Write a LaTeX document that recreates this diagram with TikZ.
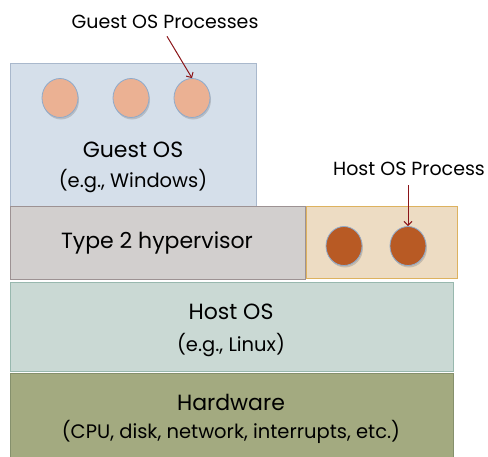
\documentclass[tikz,border=0pt]{standalone}
\usepackage{fontspec}
\setmainfont{Poppins}
\usetikzlibrary{shapes.geometric,shadows,arrows.meta,positioning}

\definecolor{guestfill}{HTML}{D5DFEA}
\definecolor{guestline}{HTML}{A9B8CC}
\definecolor{hypfill}{HTML}{D2CFCE}
\definecolor{hypline}{HTML}{9D9293}
\definecolor{procfill}{HTML}{EDDCC3}
\definecolor{procline}{HTML}{DDB25F}
\definecolor{hostfill}{HTML}{CAD9D4}
\definecolor{hostline}{HTML}{98B8AE}
\definecolor{hwfill}{HTML}{A3AA80}
\definecolor{hwline}{HTML}{85906C}
\definecolor{guestproc}{HTML}{EBB193}
\definecolor{hostproc}{HTML}{B85A24}
\definecolor{procring}{HTML}{8EAACB}
\definecolor{pointer}{HTML}{8B1418}

\begin{document}
\begin{tikzpicture}
   [x=1pt,y=-1pt,
    layer/.style={draw,line width=0.8pt,inner sep=0pt,
      drop shadow={opacity=0.25,shadow xshift=1pt,shadow yshift=-1pt}},
    proc/.style={ellipse,draw=procring,line width=0.8pt,inner sep=0pt,
      minimum width=36pt,minimum height=39pt,
      drop shadow={opacity=0.35,shadow xshift=1pt,shadow yshift=-2pt}},
    big/.style={font=\fontsize{22}{24}\selectfont},
    small/.style={font=\fontsize{19.5}{21}\selectfont},
    note/.style={font=\fontsize{19}{20}\selectfont},
    pointer/.style={draw=pointer,line width=1pt,-{Straight Barb[length=4pt,width=8pt]}}]
   \clip (0,0) rectangle (488,456);

   % stacked layers
   \node[layer,draw=hwline,fill=hwfill,minimum width=443pt,minimum height=90pt]
      (hw) at (231.5,418) {};
   \node[layer,draw=hostline,fill=hostfill,minimum width=443pt,minimum height=89pt]
      (host) at (231.5,326.5) {};
   \node[layer,draw=guestline,fill=guestfill,minimum width=246pt,minimum height=145pt]
      (guest) at (133,135.5) {};
   \node[layer,draw=hypline,fill=hypfill,minimum width=295pt,minimum height=73pt]
      (hyp) at (157.5,242.5) {};
   \node[layer,draw=procline,fill=procfill,minimum width=151pt,minimum height=72pt]
      (hproc) at (381.5,242) {};

   % layer texts
   \node[big] (guestname) at (133,150) {Guest OS};
   \node[small] (guestex) at (133,181) {(e.g., Windows)};
   \node[big] (hypname) at (157,243) {Type 2 hypervisor};
   \node[big] (hostname) at (231,312) {Host OS};
   \node[small] (hostex) at (231,345) {(e.g., Linux)};
   \node[big] (hwname) at (231,402) {Hardware};
   \node[small] (hwex) at (231,432) {(CPU, disk, network, interrupts, etc.)};

   % processes
   \foreach \n/\x in {g1/60,g2/131,g3/192}
      \node[proc,fill=guestproc] (\n) at (\x,98) {};
   \foreach \n/\x in {h1/344,h2/408}
      \node[proc,fill=hostproc] (\n) at (\x,246) {};

   % callouts
   \node[note] (guestlbl) at (165,22) {Guest OS Processes};
   \node[note] (hostlbl) at (409,169) {Host OS Process};
   \draw[pointer] (guestlbl.south) ++(2,4) -- (g3.north);
   \draw[pointer] (hostlbl.south -| h2) ++(0,6) -- (h2.north);
\end{tikzpicture}
\end{document}
